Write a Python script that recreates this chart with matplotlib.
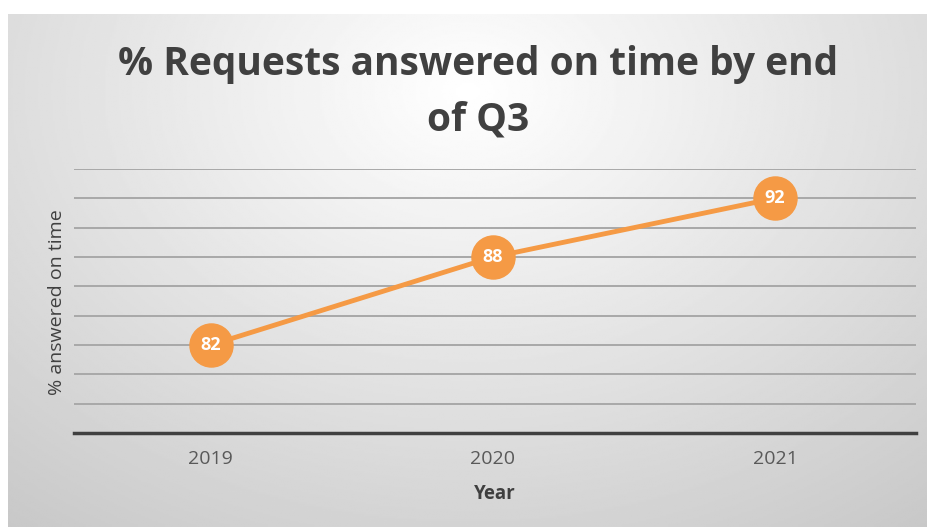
import matplotlib
matplotlib.use("Agg")
import matplotlib.pyplot as plt
import numpy as np

anos = ["2019", "2020", "2021"]
pct_no_prazo = [82, 88, 92]
titulo = "% Requests answered on time by end\nof Q3"
rotulo_y = "% answered on time"
rotulo_x = "Year"

plt.rcParams["font.family"] = ["Open Sans", "DejaVu Sans"]

fig = plt.figure(figsize=(9.28, 5.27), dpi=100)
fig.patch.set_facecolor("white")

# fundo com gradiente radial (estilo Excel)
bg = fig.add_axes([8 / 928, 0, 920 / 928, 513 / 527])
bg.set_axis_off()
yy, xx = np.mgrid[0:1:300j, 0:1:500j]
dist = np.sqrt(((xx - 0.5) / 0.75) ** 2 + ((yy - 0.85) / 1.0) ** 2)
val = 1.0 - 0.24 * np.clip(dist, 0, 1.2) / 1.2
bg.imshow(val, cmap="gray", vmin=0, vmax=1, origin="lower", aspect="auto",
          extent=[0, 1, 0, 1])
bg.set_xlim(0, 1)
bg.set_ylim(0, 1)

ax = fig.add_axes([74 / 928, (527 - 433) / 527, (916 - 74) / 928, (433 - 169) / 527])
ax.patch.set_alpha(0)
x = np.arange(len(anos))
ax.set_xlim(-0.485, 2.5)
ax.set_ylim(76, 94)
ax.set_yticks(np.arange(76, 95, 2))
ax.yaxis.grid(True, color="#a8a8a8", linewidth=1.4)
ax.set_axisbelow(True)
ax.tick_params(axis="y", left=False, labelleft=False)
ax.tick_params(axis="x", bottom=False, labelsize=14, labelcolor="#595959", pad=9)
ax.set_xticks(x)
ax.set_xticklabels(anos)
for s in ["top", "right", "left"]:
    ax.spines[s].set_visible(False)
ax.spines["bottom"].set_color("#404040")
ax.spines["bottom"].set_linewidth(2.5)

ax.plot(x, pct_no_prazo, color="#f59a45", linewidth=3.5, marker="o",
        markersize=31, markerfacecolor="#f59a45", markeredgecolor="#f59a45",
        zorder=3)
for xi, v in zip(x, pct_no_prazo):
    ax.text(xi, v, str(v), ha="center", va="center", color="white",
            fontsize=13, fontweight="bold", zorder=4)

fig.text(495 / 928, 1 - 494 / 527, rotulo_x, ha="center", va="center",
         fontsize=13.5, fontweight="bold", color="#404040")
fig.text(57 / 928, 1 - 302 / 527, rotulo_y, rotation=90, ha="center", va="center",
         fontsize=14, color="#404040")
fig.text(478 / 928, 1 - 92 / 527, titulo, ha="center", va="center",
         fontsize=28, fontweight="bold", color="#404040", linespacing=1.55)

fig.savefig("out.png", dpi=100)
